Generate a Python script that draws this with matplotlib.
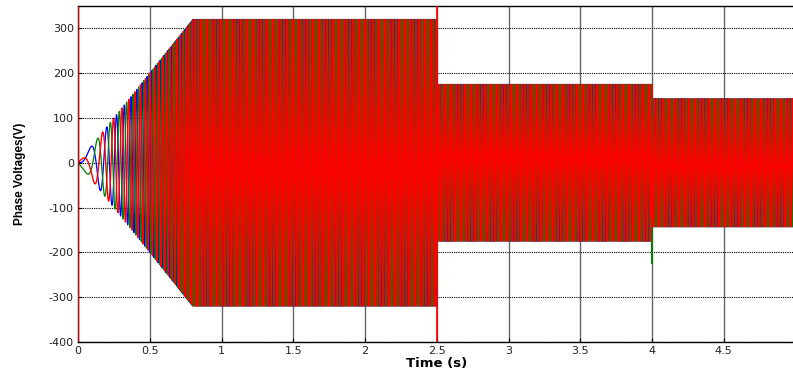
import numpy as np
import matplotlib
matplotlib.use("Agg")
import matplotlib.pyplot as plt

plt.rcParams["axes.unicode_minus"] = False

# Drive operating segments: start/end time (s), peak phase voltage (V), frequency (Hz)
seg_t0 = [0.0, 0.8, 2.5, 4.0]
seg_t1 = [0.8, 2.5, 4.0, 5.0]
seg_v0 = [0.0, 320.0, 175.0, 143.0]
seg_v1 = [320.0, 320.0, 175.0, 143.0]
seg_f0 = [0.0, 50.0, 50.0, 50.0]
seg_f1 = [50.0, 50.0, 50.0, 50.0]

# Switching transients (time, phase A, phase B, phase C peaks in V)
trans_t = [0.0, 2.5, 4.0]
trans_a = [85.0, 200.0, 160.0]
trans_b = [-40.0, -200.0, -225.0]
trans_c = [20.0, -170.0, -120.0]

phase_names = ["Va", "Vb", "Vc"]
phase_colors = ["#0000ff", "#008000", "#ff0000"]
phase_widths = [0.9, 0.9, 1.0]

x_ticks = [0, 0.5, 1, 1.5, 2, 2.5, 3, 3.5, 4, 4.5, 5]
x_labels = ["0", "0.5", "1", "1.5", "2", "2.5", "3", "3.5", "4", "4.5", "5"]
y_ticks = [-400, -300, -200, -100, 0, 100, 200, 300]
marker_lines = [0.0, 2.5]

# Build the three-phase waveforms
dt = 1e-4
t = np.arange(0.0, 5.0 + dt, dt)
amp = np.zeros_like(t)
freq = np.zeros_like(t)
for a, b, v0, v1, f0, f1 in zip(seg_t0, seg_t1, seg_v0, seg_v1, seg_f0, seg_f1):
    m = (t >= a) & (t <= b)
    amp[m] = np.interp(t[m], [a, b], [v0, v1])
    freq[m] = np.interp(t[m], [a, b], [f0, f1])
theta = 2 * np.pi * np.cumsum(freq) * dt

waves = []
for k, tr in enumerate([trans_a, trans_b, trans_c]):
    w = amp * np.sin(theta - 2 * np.pi * k / 3)
    for tt, val in zip(trans_t, tr):
        i = int(round(tt / dt))
        w[i + 1] = val
    waves.append(w)

fig = plt.figure(figsize=(7.93, 3.70), dpi=100)
ax = fig.add_axes([78 / 793, 28 / 370, 717.5 / 793, 336 / 370])

for w, c, n, lw in zip(waves, phase_colors, phase_names, phase_widths):
    ax.plot(t, w, color=c, lw=lw, label=n)

for xv in marker_lines:
    ax.axvline(xv, color="#ff0000", lw=1.2, zorder=5)

ax.set_xlim(0, 5)
ax.set_ylim(-400, 350)
ax.set_xticks(x_ticks)
ax.set_xticklabels(x_labels)
ax.set_yticks(y_ticks)

ax.grid(False)
for xv in x_ticks:
    ax.axvline(xv, color="#666666", lw=1.0, zorder=0.5)
for yv in y_ticks:
    ax.axhline(yv, color="black", lw=0.8, ls=(0, (1, 1)), zorder=0.5)

tick_font = "DejaVu Sans"
for lab in ax.get_xticklabels() + ax.get_yticklabels():
    lab.set_fontfamily(tick_font)
    lab.set_fontsize(8)
    lab.set_color("#222222")
ax.tick_params(direction="in", length=3, width=0.8, pad=3)
ax.set_xlabel("Time (s)", fontfamily="DejaVu Sans", fontsize=9.5, fontweight="bold", va="center")
ax.xaxis.set_label_coords(0.5, -0.063)
ax.set_ylabel("Phase Voltages(V)", fontfamily=["Liberation Sans Narrow", "Liberation Sans"],
              fontsize=8.5, fontweight="bold", va="center")
ax.yaxis.set_label_coords(-0.081, 0.5)
for s in ax.spines.values():
    s.set_linewidth(1.0)

fig.savefig("out.png", dpi=100)
